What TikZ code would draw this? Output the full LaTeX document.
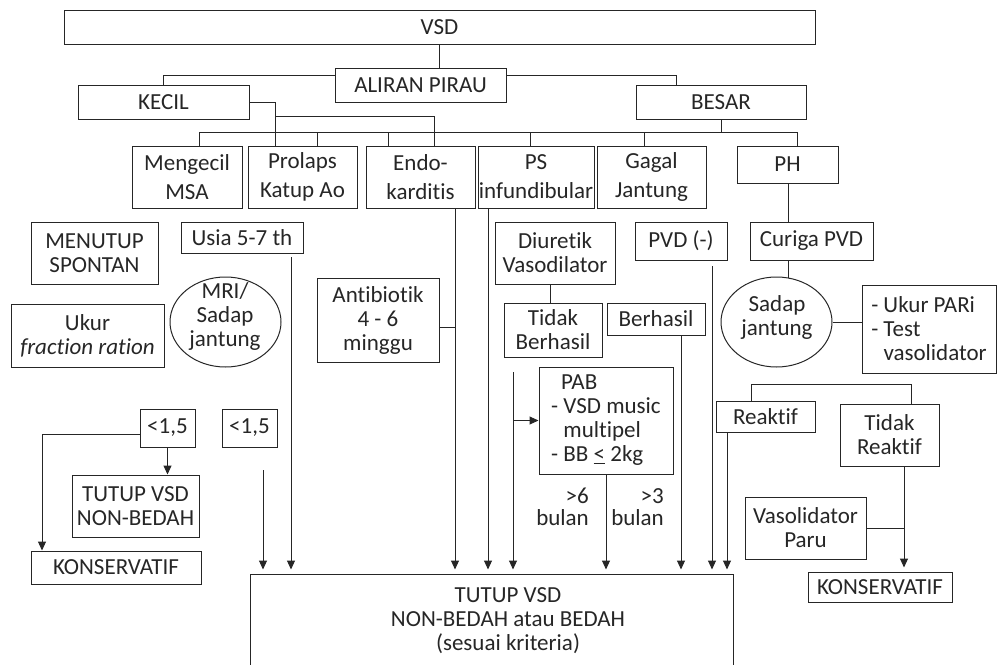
\documentclass[tikz,border=0pt]{standalone}
\usepackage{fontspec}
\setmainfont{Carlito}[Ligatures=NoCommon]
\usetikzlibrary{arrows.meta,shapes.geometric}
\newcommand\fsn{\fontsize{23}{24}\selectfont}
\newcommand\fst{\fontsize{23}{29}\selectfont}
\newcommand\fsl{\fontsize{23}{22}\selectfont}
\newcommand\mybox[7][]{\node[box,minimum width={(#5)-(#3)},minimum height={(#6)-(#4)},#1] (#2) at ({((#3)+(#5))/2},{((#4)+(#6))/2}) {#7};}
\tikzset{
  ln/.style={draw=black!85, line width=1pt},
  arr/.style={ln, -{Triangle[length=9pt,width=8pt]}},
  box/.style={draw=black!85, line width=1pt, inner sep=0pt, align=center, font=\fsn, text=black!85},
  txt/.style={inner sep=0pt, font=\fsn, text=black!85},
  ell/.style={ellipse, draw=black!85, line width=1pt, inner sep=0pt},
}
\begin{document}
\begin{tikzpicture}[x=1pt,y=-1pt]
\useasboundingbox (0,0) rectangle (1006,664);
\clip (0,0) rectangle (1006,664);
% boxes
\mybox{vsd}{64}{10}{815}{44}{VSD}
\mybox{aliran}{335}{68}{506}{102}{ALIRAN PIRAU}
\mybox{kecil}{78}{85}{249}{119}{KECIL}
\mybox{besar}{636}{85}{806}{119}{BESAR}
\mybox[font=\fst]{mengecil}{132}{146}{242}{208}{Mengecil\\MSA}
\mybox[font=\fst]{prolaps}{248}{146}{357}{208}{Prolaps\\Katup Ao}
\mybox[font=\fst]{endo}{366}{146}{475}{208}{Endo-\\karditis}
\mybox[font=\fst]{ps}{478}{146}{594}{208}{PS\\infundibular}
\mybox[font=\fst]{gagal}{597}{146}{706}{208}{Gagal\\Jantung}
\mybox{ph}{737}{146}{838}{183}{PH}
\mybox{menutup}{31}{222}{158}{284}{MENUTUP\\SPONTAN}
\mybox{usia}{181}{222}{303}{253}{Usia 5-7 th}
\mybox{ukur}{11}{304}{164}{367}{Ukur\\\textit{fraction ration}}
\node[ell, minimum width=111, minimum height=90] (mri) at (225.5,322) {};
\node[txt, align=center] (mritxt) at (225,316) {MRI/\\Sadap\\jantung};
\mybox{antib}{317}{278}{439}{362}{Antibiotik\\4 - 6\\minggu}
\mybox{diur}{495}{222}{615}{284}{Diuretik\\Vasodilator}
\mybox{tidakb}{504}{303}{602}{357}{Tidak\\Berhasil}
\mybox{berh}{607}{303}{705}{335}{Berhasil}
\mybox{pvd}{635}{222}{727}{260}{PVD (-)}
\mybox{curiga}{750}{222}{873}{260}{Curiga PVD}
\node[ell, minimum width=111, minimum height=90] (sadap) at (776.5,322) {};
\node[txt, align=center] (sadaptxt) at (777,317) {Sadap\\jantung};
\mybox[align=left]{pari}{862}{285}{996}{373}{- Ukur PARi\\- Test\\\phantom{- }vasolidator}
\mybox[align=left]{pab}{539}{367}{673}{474}{\hspace*{10pt}PAB\\- VSD music\\\phantom{- }multipel\\- BB \underline{<} 2kg}
\mybox{reak}{716}{401}{815}{432}{Reaktif}
\mybox{tidakr}{840}{404}{939}{466}{Tidak\\Reaktif}
\mybox{vaso}{745}{497}{866}{559}{Vasolidator\\Paru}
\mybox{konsR}{808}{572}{952}{602}{KONSERVATIF}
\mybox{ltA}{140}{409}{195}{447}{<1,5}
\mybox{ltB}{222}{409}{277}{447}{<1,5}
\mybox{tvnb}{72}{475}{199}{537}{TUTUP VSD\\NON-BEDAH}
\mybox{konsL}{31}{551}{201}{584}{KONSERVATIF}
\mybox{tutup}{250}{574}{733}{668}{}
\node[txt, align=center] (tutuptxt) at (508,621) {TUTUP VSD\\NON-BEDAH atau BEDAH\\(sesuai kriteria)};
\node[txt, font=\fsl, align=right, anchor=east] (l6) at (589,507) {>6\\bulan};
\node[txt, font=\fsl, align=right, anchor=east] (l3) at (664,507) {>3\\bulan};
% connectors: top tree
\draw[ln] (vsd.south) -- (vsd.south |- aliran.north);
\draw[ln] ([yshift=-8pt]aliran.north west) -| (kecil.north);
\draw[ln] ([yshift=-8pt]aliran.north east) -| (besar.north -| 676,0);
\draw[ln] (kecil.east) -| (prolaps.north -| 275,0);
\draw[ln] (275,116) -| (endo.north -| 434,0);
\draw[ln] (besar.south) -- (besar.south |- 0,132);
\draw[ln] (mengecil.north -| 199,0) -- (199,132) -- (797,132) -- (ph.north -| 797,0);
\foreach \x/\n in {317/prolaps, 388/endo, 530/ps, 644/gagal}
  \draw[ln] (\x,132) -- (\n.north -| \x,0);
% into TUTUP
\draw[arr, shorten >=4pt] (263,470) -- (tutup.north -| 263,0);
\draw[arr, shorten >=4pt] (291,257) -- (tutup.north -| 291,0);
\draw[arr, shorten >=4pt] (endo.south -| 455,0) -- (tutup.north -| 455,0);
\draw[ln] ([yshift=-7pt]antib.east) -- ([yshift=-7pt]antib.east -| 455,0);
\draw[arr, shorten >=4pt] (ps.south -| 488,0) -- (tutup.north -| 488,0);
\draw[ln] (diur.south -| 550,0) -- (tidakb.north -| 550,0);
\draw[arr, shorten >=4pt] (513,372) -- (tutup.north -| 513,0);
\draw[arr] (pab.west -| 513,0) -- (pab.west);
\draw[arr, shorten >=4pt] (pab.south) -- (tutup.north -| pab.south);
\draw[arr, shorten >=4pt] (berh.south -| 681,0) -- (tutup.north -| 681,0);
\draw[arr, shorten >=4pt] (712,266) -- (tutup.north -| 712,0);
\draw[arr, shorten >=4pt] (reak.south -| 727,0) -- (tutup.north -| 727,0);
% PH branch
\draw[ln] (ph.south -| 788,0) -- (curiga.north -| 788,0);
\draw[ln] (curiga.south -| 788,0) -- (788,278);
\draw[ln] (sadap.east) -- (pari.west |- sadap.east);
\draw[ln] (reak.north -| 751,0) -- (751,384) -- (911,384) -- (tidakr.north -| 911,0);
\draw[arr, shorten >=4pt] (tidakr.south -| 904,0) -- (konsR.north -| 904,0);
\draw[ln] (vaso.east) -- (vaso.east -| 904,0);
% left
\draw[arr] ([yshift=-6pt]ltA.west) -| (konsL.north -| 42,0);
\draw[arr] (ltA.south) -- (ltA.south |- tvnb.north);
\end{tikzpicture}
\end{document}
